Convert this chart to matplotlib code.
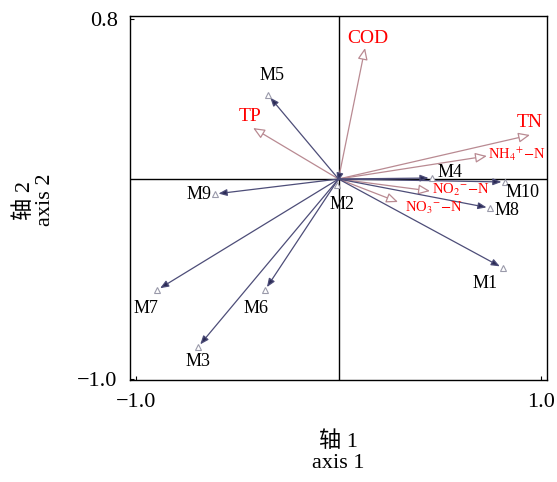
import matplotlib
matplotlib.use("Agg")
import matplotlib.pyplot as plt
from matplotlib.patches import FancyArrowPatch

plt.rcParams['font.family'] = ['Liberation Serif', 'Noto Sans CJK SC']
plt.rcParams['mathtext.fontset'] = 'stix'

# environment variables (axis 1, axis 2)
env_names = ['COD', 'TN', 'NH4', 'NO2', 'NO3', 'TP']
env_x = [0.131, 0.946, 0.733, 0.452, 0.294, -0.422]
env_y = [0.655, 0.220, 0.115, -0.060, -0.115, 0.255]

# sites
site_names = ['M1', 'M2', 'M3', 'M4', 'M5', 'M6', 'M7', 'M8', 'M9', 'M10']
site_x = [0.812, -0.007, -0.694, 0.462, -0.348, -0.363, -0.896, 0.748, -0.610, 0.822]
site_y = [-0.445, -0.030, -0.840, 0.005, 0.420, -0.555, -0.555, -0.145, -0.075, -0.015]

env_text = {'COD': 'COD', 'TN': 'TN', 'TP': 'TP',
            'NH4': r'NH$_4$$^{+}$$-$N', 'NO2': r'NO$_2$$^{-}$$-$N', 'NO3': r'NO$_3$$^{-}$$-$N'}
# label placement (x, y, ha, fontsize)
env_lab = {'COD': (0.146, 0.705, 'center', 14), 'TN': (0.946, 0.285, 'center', 14),
           'NH4': (0.738, 0.125, 'left', 10.5), 'NO2': (0.462, -0.055, 'left', 10.5),
           'NO3': (0.328, -0.145, 'left', 10.5), 'TP': (-0.437, 0.315, 'center', 14)}
site_lab = {'M1': (0.723, -0.52, 'center'), 'M2': (0.017, -0.125, 'center'),
            'M3': (-0.694, -0.91, 'center'), 'M4': (0.551, 0.035, 'center'),
            'M5': (-0.328, 0.52, 'center'), 'M6': (-0.407, -0.645, 'center'),
            'M7': (-0.951, -0.645, 'center'), 'M8': (0.832, -0.155, 'center'),
            'M9': (-0.625, -0.075, 'right'), 'M10': (0.911, -0.065, 'center')}

fig = plt.figure(figsize=(5.57, 4.82), dpi=100)
ax = fig.add_axes([0.2334, 0.2116, 0.7487, 0.7552])
ax.set_xlim(-1.03, 1.03)
ax.set_ylim(-1.005, 0.815)

ax.axhline(0, color='black', lw=1.0, zorder=1)
ax.axvline(0, color='black', lw=1.0, zorder=1)

env_col = '#b98a92'
site_col = '#4d4d78'

for n, x, y in zip(env_names, env_x, env_y):
    a = FancyArrowPatch((0, 0), (x, y), arrowstyle='-|>,head_length=7,head_width=3',
                        mutation_scale=1, lw=0.9, edgecolor=env_col, facecolor='white',
                        shrinkA=0, shrinkB=0, zorder=3)
    ax.add_patch(a)
    lx, ly, ha, fs = env_lab[n]
    ax.text(lx, ly, env_text[n], color='red', ha=ha, va='center', fontsize=fs, zorder=5)

for n, x, y in zip(site_names, site_x, site_y):
    a = FancyArrowPatch((0, 0), (x, y), arrowstyle='-|>,head_length=5,head_width=2',
                        mutation_scale=1, lw=0.9, edgecolor=site_col, facecolor='#2a2a55',
                        shrinkA=0, shrinkB=2.5, zorder=4)
    ax.add_patch(a)
    lx, ly, ha = site_lab[n]
    ax.text(lx, ly, n, color='black', ha=ha, va='center', fontsize=13, zorder=5)
ax.plot(site_x, site_y, linestyle='none', marker='^', markersize=5,
        markerfacecolor='white', markeredgecolor='#9a9aaa', markeredgewidth=0.8, zorder=4)

ax.set_xticks([-1.0, 1.0])
ax.set_xticklabels(['\u22121.0', '1.0'])
ax.set_yticks([-1.0, 0.8])
ax.set_yticklabels(['\u22121.0', '0.8'])
ax.tick_params(direction='in', length=3, labelsize=16)
ax.tick_params(axis='x', pad=9)
ax.tick_params(axis='y', pad=9)
for s in ax.spines.values():
    s.set_linewidth(1.0)

fig.text(0.607, 0.062, '轴 1\naxis 1', fontsize=16, ha='center', va='center', linespacing=1.1)
fig.text(0.062, 0.585, '轴 2\naxis 2', fontsize=16, ha='center', va='center',
         linespacing=1.1, rotation=90)

fig.savefig('out.png', dpi=100)
